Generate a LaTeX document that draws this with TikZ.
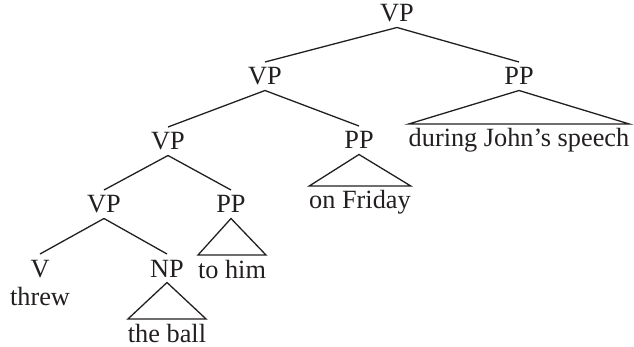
\documentclass[tikz,border=0pt]{standalone}
\usepackage{fontspec}
\setmainfont{Liberation Serif}
\definecolor{ink}{HTML}{231F20}
\begin{document}
\begin{tikzpicture}[x=1pt,y=-1pt,
  every node/.style={font=\fontsize{26.3}{30}\selectfont, text=ink, inner sep=0pt, outer sep=0pt, anchor=base},
  cat/.style={text height=23pt, text depth=5.5pt},
  word/.style={text height=23pt, text depth=0pt},
  branch/.style={draw=ink, line width=1.3pt},
  tri/.style={draw=ink, line width=1.3pt, line join=miter}]
\useasboundingbox (0,0) rectangle (634,347);
% categories
\node[cat] (vp0) at (397,22) {VP};
\node[cat] (vp1) at (265,85) {VP};
\node[cat] (pp1) at (519,85) {PP};
\node[cat] (vp2) at (168,150) {VP};
\node[cat] (pp2) at (359,149) {PP};
\node[cat] (vp3) at (104,213) {VP};
\node[cat] (pp3) at (231,213) {PP};
\node[cat] (v) at (40,277) {V};
\node[cat] (np) at (167,277) {NP};
% words
\node[word] (w1) at (519,147) {during John’s speech};
\node[word] (w2) at (360,209) {on Friday};
\node[word] (w3) at (232,278) {to him};
\node[word] (w4) at (167,342) {the ball};
\node (threw) at (40,305) {threw};
% branches
\draw[branch] (vp1.north) -- (vp0.south) -- (pp1.north);
\draw[branch] (vp2.north) -- (vp1.south) -- (pp2.north);
\draw[branch] (vp3.north) -- (vp2.south) -- (pp3.north);
\draw[branch] (v.north) -- (vp3.south) -- (np.north);
% triangles
\draw[tri] (pp1.south) -- (w1.north east) -- (w1.north west) -- cycle;
\draw[tri] (pp2.south) -- (w2.north east) -- (w2.north west) -- cycle;
\draw[tri] (pp3.south) -- (w3.north east) -- (w3.north west) -- cycle;
\draw[tri] (np.south) -- (w4.north east) -- (w4.north west) -- cycle;
\end{tikzpicture}
\end{document}
